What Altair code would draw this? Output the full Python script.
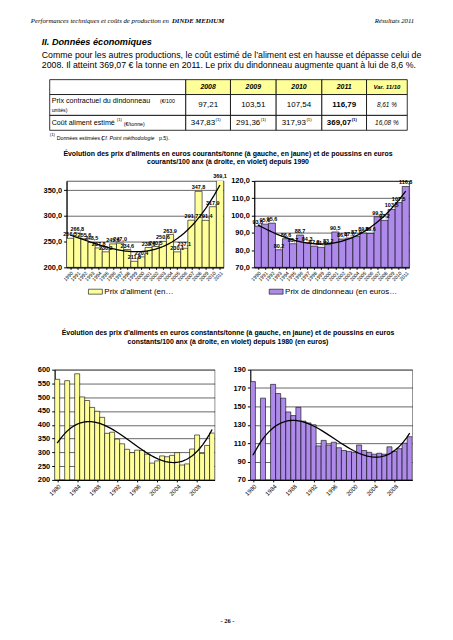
import altair as alt
import pandas as pd

SANS = "Liberation Sans"
SERIF = "Liberation Serif"
YELLOW = "#FFFF99"
PURPLE = "#AE8BEB"

# ---------------- data ----------------
tbl_cols = ["2008", "2009", "2010", "2011", "Var. 11/10"]
prix_dindonneau_tbl = ["97,21", "103,51", "107,54", "116,79", "8,61 %"]
cout_aliment_tbl = ["347,83", "291,36", "317,93", "369,07", "16,08 %"]

years_cur = list(range(1990, 2012))
aliment_cur = [256.5, 266.8, 255.6, 248.5, 237.8, 230.2, 245.6, 247.0, 234.6, 211.8, 220.4,
               238.6, 240.5, 250.6, 263.9, 230.1, 237.1, 291.7, 347.8, 291.4, 317.9, 369.1]
dinde_cur = [93.8, 95.0, 95.6, 80.2, 86.6, 83.7, 88.7, 84.3, 82.3, 81.6, 83.2,
             90.5, 86.4, 87.0, 87.9, 89.8, 89.6, 99.3, 97.2, 103.5, 107.5, 116.8]

# 1981 and 1983 are empty cells (counted as 0 by the spreadsheet trend line, bars below the axis)
years_const = list(range(1980, 2012))
aliment_const = [565, 0, 560, 0, 585, 501, 488, 463, 449, 427, 369, 373, 348, 331, 311, 299, 308,
                 307, 293, 261, 269, 287, 284, 289, 299, 254, 258, 312, 363, 296, 325, 370]
dinde_const = [177, 0, 159, 0, 174, 164, 159, 144, 140, 149, 134, 132, 130, 107, 113, 108, 111,
               105, 102, 101, 100, 108, 102, 100, 98, 99, 98, 106, 101, 104, 110, 117]

legend_aliment = "Prix d'aliment (en…"
legend_dinde = "Prix de dindonneau (en euros…"

one = pd.DataFrame({"d": [0]})


def T(text, x, y, size, weight="normal", style="normal", align="left", font=SANS):
    return alt.Chart().mark_text(fontSize=size, fontWeight=weight, fontStyle=style, align=align,
                                 font=font, color="black", baseline="middle").encode(
        x=alt.value(x), y=alt.value(y), text=alt.value(text))


def R(x0, x1, y0, y1, fill, sw=0.8):
    return alt.Chart().mark_rect(fill=fill, stroke="black", strokeWidth=sw).encode(
        x=alt.value(x0), x2=alt.value(x1), y=alt.value(y0), y2=alt.value(y1))


def spacer(w, h):
    return alt.Chart(one).mark_point(opacity=0).encode(
        x=alt.value(0), y=alt.value(0)).properties(width=w, height=h)


# ---------------- header block ----------------
W = 437
hdr = [
    T("Performances techniques et coûts de production en", 20, 11, 6.8, style="italic", font=SERIF),
    T("DINDE MEDIUM", 162, 11, 6.8, weight="bold", style="italic", font=SERIF),
    T("Résultats 2011", 406, 11, 6.8, style="italic", align="right", font=SERIF),
    T("II. Données économiques", 31, 32, 9.2, weight="bold", style="italic"),
    T("Comme pour les autres productions, le coût estimé de l’aliment est en hausse et dépasse celui de",
      31, 45.5, 8.85),
    T("2008. Il atteint 369,07 € la tonne en 2011. Le prix du dindonneau augmente quant à lui de 8,6 %.",
      31, 55.5, 8.85),
]
xe = [39, 176, 221, 267, 313, 358, 399]
ye = [70, 85, 106, 121]
cells = []
for r in range(3):
    for c in range(6):
        fill = YELLOW if (r == 0 and c > 0) else "white"
        cells.append(R(xe[c], xe[c + 1], ye[r], ye[r + 1], fill))
cx = [(xe[i + 1] + xe[i + 2]) / 2 for i in range(5)]
tbl = []
for i, col in enumerate(tbl_cols):
    tbl.append(T(col, cx[i], 77.5, 7 if i < 4 else 6, weight="bold", style="italic", align="center"))
tbl += [
    T("Prix contractuel du dindonneau", 41, 92, 7.2),
    T("(€/100", 150, 92, 5.3),
    T("unités)", 41, 100.5, 5.3),
    T("Coût aliment estimé", 41, 114, 7.2),
    T("(1)", 106.5, 110.5, 4.3),
    T("(€/tonne)", 113.5, 114.5, 5.3),
]
for i, v in enumerate(prix_dindonneau_tbl):
    tbl.append(T(v, cx[i], 95.5, 6.5 if i == 4 else 8, weight="bold" if i == 3 else "normal",
                 style="italic" if i == 4 else "normal", align="center"))
for i, v in enumerate(cout_aliment_tbl):
    if i < 4:
        tbl.append(T(v, cx[i] + 7, 114, 8, weight="bold" if i == 3 else "normal", align="right"))
        tbl.append(T("(1)", cx[i] + 7.5, 110.5, 4.3, weight="bold" if i == 3 else "normal"))
    else:
        tbl.append(T(v, cx[i], 114, 6.5, style="italic", align="center"))
tbl += [
    T("(1)", 39, 126, 4.3),
    T("Données estimées (", 46, 128.5, 5.3),
    T("Cf. Point méthodologie", 91, 128.5, 5.3, style="italic"),
    T("p.5).", 149, 128.5, 5.3),
    T("Évolution des prix d’aliments en euros courants/tonne (à gauche, en jaune) et de poussins en euros",
      218.5, 144.7, 7, weight="bold", align="center"),
    T("courants/100 anx (à droite, en violet) depuis 1990",
      218.5, 152.7, 7, weight="bold", align="center"),
]
header = alt.layer(*(hdr + cells + tbl), data=one).properties(width=W, height=172)


# ---------------- bar panels ----------------
def panel(years, values, color, ydom, yticks, ylabel_expr, xdom, xticks, xfont,
          width, height, legend_label=None, legend_x=0, show_labels=False, frame="#333"):
    df = pd.DataFrame({"year": years, "value": values})
    xs = alt.Scale(domain=xdom, nice=False, zero=False)
    ys = alt.Scale(domain=ydom, nice=False, zero=False)
    xa = alt.Axis(values=xticks, format="d", labelAngle=-45, labelFontSize=xfont, labelFont=SANS,
                  labelColor="black", labelOverlap=False, grid=False, domainColor="black",
                  tickColor="black", tickSize=2, labelPadding=1, title=None)
    ya = alt.Axis(values=yticks, labelExpr=ylabel_expr, labelFontSize=7.5, labelFont=SANS,
                  labelFontWeight="bold", labelColor="black", grid=True, gridColor="black",
                  gridWidth=0.6, domainColor="black", tickColor="black", tickSize=3,
                  labelPadding=2, title=None)
    base = alt.Chart(df)
    bars = base.transform_calculate(x0="datum.year - 0.5", x1="datum.year + 0.5").mark_bar(
        stroke="black", strokeWidth=0.6, color=color, clip=True).encode(
        x=alt.X("x0:Q", scale=xs, axis=xa),
        x2="x1:Q",
        y=alt.Y("value:Q", scale=ys, axis=ya),
        y2=alt.datum(ydom[0]),
    )
    trend = base.transform_regression("year", "value", method="poly", order=3,
                                      extent=[xdom[0] + 0.5, xdom[1] - 0.5]).mark_line(
        color="black", strokeWidth=1.3, clip=True).encode(
        x=alt.X("year:Q", scale=xs, axis=xa),
        y=alt.Y("value:Q", scale=ys, axis=ya),
    )
    layers = [bars, trend]
    if show_labels:
        labels = base.transform_calculate(
            label="replace(format(datum.value, '.1f'), '.', ',')").mark_text(
            fontSize=5.5, fontWeight="bold", font=SANS, color="black", baseline="bottom", dy=-1).encode(
            x=alt.X("year:Q", scale=xs, axis=xa),
            y=alt.Y("value:Q", scale=ys, axis=ya),
            text="label:N",
        )
        layers.append(labels)
    if legend_label:
        sw = alt.Chart(one).mark_rect(fill=color, stroke="black", strokeWidth=0.6).encode(
            x=alt.value(legend_x), x2=alt.value(legend_x + 14),
            y=alt.value(height + 22), y2=alt.value(height + 27))
        lt = alt.Chart(one).mark_text(fontSize=8, font=SANS, color="black", align="left",
                                      baseline="middle").encode(
            x=alt.value(legend_x + 16), y=alt.value(height + 24.5), text=alt.value(legend_label))
        layers += [sw, lt]
    return alt.layer(*layers).properties(
        width=width, height=height,
        view=alt.ViewBackground(stroke=frame, strokeWidth=0.8))


comma1 = "replace(format(datum.value, '.1f'), '.', ',')"
tl = panel(years_cur, aliment_cur, YELLOW, [200, 368], [200, 250, 300, 350], comma1,
           [1989.5, 2011.5], years_cur, 5, 158, 87, legend_aliment, 22, True)
tr = panel(years_cur, dinde_cur, PURPLE, [70, 120], [70, 80, 90, 100, 110, 120], comma1,
           [1989.5, 2011.5], years_cur, 5, 156, 87, legend_dinde, 15, True)

intfmt = "format(datum.value, 'd')"
xt = list(range(1980, 2012, 4))
bl = panel(years_const, aliment_const, YELLOW, [200, 600], list(range(200, 601, 50)), intfmt,
           [1979.5, 2011.5], xt, 6, 161, 111, frame="#777")
br = panel(years_const, dinde_const, PURPLE, [70, 190], list(range(70, 191, 20)), intfmt,
           [1979.5, 2011.5], xt, 6, 163, 111, frame="#777")

# nested concats take no room in a flush layout, so the following rows include their height
row_top = alt.hconcat(spacer(56, 87), tl, spacer(31, 87), tr, spacing=0, bounds="flush")
middle = alt.layer(
    T("Évolution des prix d’aliments en euros constants/tonne (à gauche, en jaune) et de poussins en euros",
      218.5, 153, 7, weight="bold", align="center"),
    T("constants/100 anx (à droite, en violet) depuis 1980 (en euros)",
      218.5, 162, 7, weight="bold", align="center"),
    data=one).properties(width=W, height=190)
row_bot = alt.hconcat(spacer(44, 111), bl, spacer(36, 111), br, spacing=0, bounds="flush")
footer = alt.layer(T("- 26 -", 218, 253, 6.5, weight="bold", align="center", font=SERIF),
                   data=one).properties(width=W, height=260)

chart = alt.vconcat(header, row_top, middle, row_bot, footer, spacing=0, bounds="flush",
                    padding=0).configure_view(strokeWidth=0)

chart.save("out.html", embed_options={"renderer": "svg", "actions": False})
